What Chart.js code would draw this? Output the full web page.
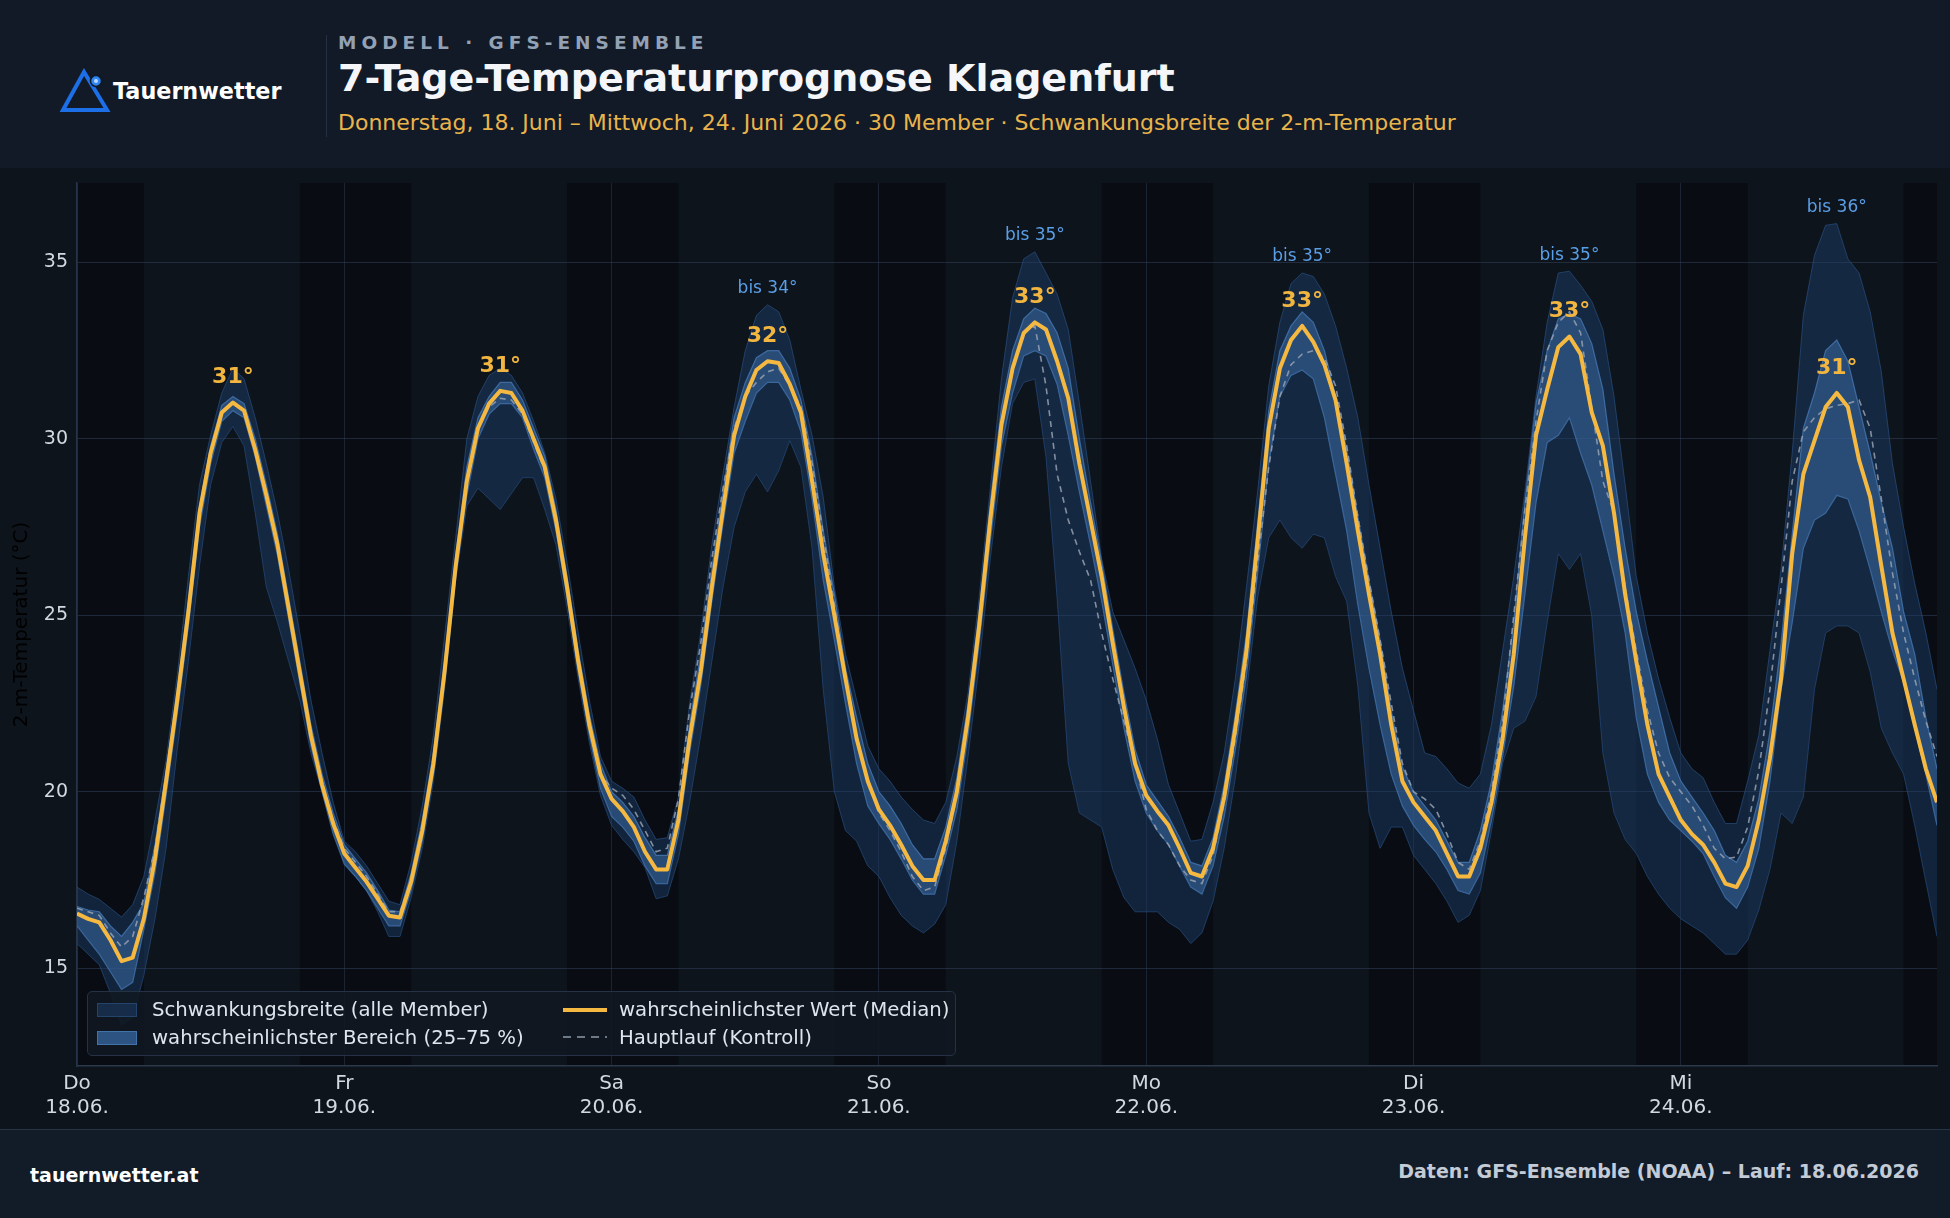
<!DOCTYPE html>
<html lang="de">
<head>
<meta charset="utf-8">
<title>7-Tage-Temperaturprognose Klagenfurt</title>
<script src="https://cdn.jsdelivr.net/npm/chart.js@4.4.1/dist/chart.umd.min.js"></script>
<style>
  html, body { margin:0; padding:0; width:1950px; height:1218px; overflow:hidden;
    background:#0e141c; font-family:'DejaVu Sans', sans-serif; }
  #header { position:absolute; left:0; top:0; width:1950px; height:168px; background:#111a26; }
  #logo { position:absolute; left:56px; top:64px; }
  #brand { position:absolute; left:113px; top:77px; font-size:22.3px; line-height:28px; font-weight:bold; color:#ffffff; }
  #sep { position:absolute; left:326px; top:35px; width:1px; height:102px; background:#253143; }
  #kicker { position:absolute; left:338px; top:32px; font-size:18.5px; line-height:22px; font-weight:bold; letter-spacing:5px; color:#93a1b5; }
  #title { position:absolute; left:338px; top:55px; font-size:38px; line-height:46px; font-weight:bold; color:#f4f6f9; }
  #subtitle { position:absolute; left:338px; top:110px; font-size:22px; line-height:26px; color:#e9b44c; }
  #chartWrap { position:absolute; left:0; top:168px; width:1950px; height:961px; }
  #footer { position:absolute; left:0; top:1129px; width:1950px; height:89px; background:#121b28; border-top:1px solid #283445; box-sizing:border-box; }
  #footL { position:absolute; left:30px; top:33px; font-size:19px; line-height:24px; font-weight:bold; color:#ffffff; }
  #footR { position:absolute; right:31px; top:29px; font-size:19px; line-height:24px; font-weight:bold; color:#c3cbd6; }
  #legend { position:absolute; left:87px; top:991px; width:869px; height:65px; box-sizing:border-box;
    background:rgba(16,24,34,0.86); border:1px solid #253245; border-radius:5px; }
  .li { position:absolute; font-size:19.7px; line-height:24px; color:#dfe5ec; white-space:nowrap; }
  .sw { position:absolute; box-sizing:border-box; }
</style>
</head>
<body>
<div id="header">
  <svg id="logo" width="56" height="52" viewBox="0 0 56 52">
    <polygon points="28,8 7,46 51,46" fill="none" stroke="#1d6fe8" stroke-width="4" stroke-linejoin="miter"/>
    <circle cx="40" cy="17" r="5.5" fill="#2f86f5" stroke="#0f1a2a" stroke-width="1.5"/>
    <circle cx="40" cy="17" r="2" fill="#bcd8ff"/>
  </svg>
  <div id="brand">Tauernwetter</div>
  <div id="sep"></div>
  <div id="kicker">MODELL · GFS-ENSEMBLE</div>
  <div id="title">7-Tage-Temperaturprognose Klagenfurt</div>
  <div id="subtitle">Donnerstag, 18. Juni – Mittwoch, 24. Juni 2026 · 30 Member · Schwankungsbreite der 2-m-Temperatur</div>
</div>

<div id="chartWrap"><canvas id="c"></canvas></div>

<div id="legend">
  <div class="sw" style="left:9px;top:11px;width:40px;height:14px;background:#172c48;border:1px solid #24446b;"></div>
  <div class="li" style="left:64px;top:6px;">Schwankungsbreite (alle Member)</div>
  <div class="sw" style="left:9px;top:39px;width:40px;height:14px;background:#2c5381;border:1px solid #4173a8;"></div>
  <div class="li" style="left:64px;top:34px;">wahrscheinlichster Bereich (25–75 %)</div>
  <div class="sw" style="left:475px;top:16px;width:44px;height:4px;background:#f5b942;"></div>
  <div class="li" style="left:531px;top:6px;">wahrscheinlichster Wert (Median)</div>
  <svg class="sw" style="left:475px;top:43px;" width="44" height="4"><line x1="0" y1="2" x2="44" y2="2" stroke="#8f9bab" stroke-width="1.6" stroke-dasharray="8,6"/></svg>
  <div class="li" style="left:531px;top:34px;">Hauptlauf (Kontroll)</div>
</div>

<div id="footer">
  <div id="footL">tauernwetter.at</div>
  <div id="footR">Daten: GFS-Ensemble (NOAA) – Lauf: 18.06.2026</div>
</div>

<script>
// ---------- data (hourly, Do 18.06. 00:00 … Mi 24.06. 23:00) ----------
const dayNames = ['Do','Fr','Sa','So','Mo','Di','Mi'];
const dayDates = ['18.06.','19.06.','20.06.','21.06.','22.06.','23.06.','24.06.'];
const dayTickHours = [0,24,48,72,96,120,144];
const yTicks = [15,20,25,30,35];
const yMin = 12.23, yMax = 37.25;
const nightRanges = [[0,6],[20,30],[44,54],[68,78],[92,102],[116,126],[140,150],[164,167]];

const tMedian = [
 16.55,16.4,16.3,15.8,15.2,15.3,16.4,18.1,20.3,22.6,25.1,27.9,29.6,30.75,31.03,30.8,29.7,28.4,27.0,25.2,23.4,21.6,20.2,19.1,
 18.25,17.85,17.45,16.97,16.49,16.44,17.45,18.9,20.8,23.4,26.4,28.8,30.3,31.0,31.36,31.3,30.8,30.0,29.2,27.7,25.8,23.7,21.9,20.5,
 19.8,19.45,19.0,18.3,17.8,17.8,19.2,21.5,23.4,25.8,28.0,30.1,31.2,31.95,32.2,32.15,31.55,30.75,28.8,26.75,25.0,23.2,21.5,20.3,
 19.5,19.05,18.5,17.9,17.5,17.5,18.6,20.0,22.1,24.7,27.7,30.4,32.0,33.0,33.3,33.1,32.2,31.15,29.3,27.7,26.1,24.2,22.4,20.8,
 19.9,19.45,19.05,18.4,17.7,17.6,18.4,19.85,21.8,24.0,27.1,30.3,32.0,32.8,33.2,32.75,32.1,31.1,29.3,27.4,25.6,23.9,21.9,20.3,
 19.7,19.3,18.9,18.25,17.6,17.6,18.4,19.7,21.5,23.9,27.2,30.1,31.4,32.6,32.9,32.4,30.75,29.8,27.9,25.6,23.7,21.9,20.5,19.85,
 19.2,18.8,18.5,18.0,17.4,17.3,17.9,19.2,20.95,23.2,26.75,29.0,29.95,30.9,31.3,30.9,29.4,28.35,26.4,24.5,23.2,21.9,20.65,19.7
];
const tP75 = [
 16.75,16.65,16.6,16.2,15.9,16.3,16.85,18.5,20.6,22.9,25.4,28.1,29.8,30.95,31.2,31.0,30.0,28.7,27.3,25.5,23.7,21.9,20.5,19.4,
 18.5,18.1,17.7,17.2,16.65,16.6,17.7,19.2,21.1,23.7,26.7,29.2,30.6,31.2,31.6,31.6,31.1,30.3,29.5,28.0,26.1,24.0,22.2,20.8,
 20.0,19.7,19.3,18.7,18.2,18.2,19.5,21.9,23.9,26.3,28.5,30.6,31.6,32.3,32.5,32.5,32.0,31.1,29.5,27.4,25.6,23.5,22.1,20.8,
 20.0,19.6,19.1,18.5,18.1,18.1,19.0,20.4,22.5,25.1,28.2,30.9,32.5,33.4,33.7,33.55,33.0,32.0,30.0,28.2,26.5,24.6,22.8,21.2,
 20.2,19.75,19.3,18.7,18.0,17.9,18.7,20.2,22.2,24.5,27.6,30.8,32.5,33.2,33.6,33.3,32.5,31.2,29.7,27.8,26.0,24.3,22.3,20.7,
 20.0,19.6,19.2,18.6,18.0,18.0,18.9,20.3,22.3,24.8,28.2,31.0,32.5,33.4,33.55,33.4,32.7,31.4,29.0,26.9,25.1,23.7,22.4,21.1,
 20.3,19.85,19.4,18.9,18.2,18.0,18.6,19.8,21.7,24.2,27.3,30.3,31.3,32.5,32.8,32.2,30.9,29.6,28.2,26.9,25.1,23.9,22.1,20.65
];
const tP25 = [
 16.2,15.8,15.4,14.9,14.4,14.6,16.1,17.7,19.9,22.2,24.7,27.5,29.3,30.5,30.8,30.6,29.5,28.1,26.7,24.9,23.1,21.3,20.0,18.8,
 17.95,17.6,17.2,16.7,16.2,16.2,17.2,18.6,20.5,23.1,26.1,28.4,30.0,30.7,31.0,31.0,30.6,29.7,28.9,27.4,25.5,23.4,21.6,20.1,
 19.3,19.0,18.6,17.9,17.4,17.4,18.8,21.1,23.0,25.4,27.6,29.6,30.5,31.3,31.6,31.6,31.1,30.2,28.3,26.0,24.3,22.5,20.8,19.6,
 19.1,18.65,18.1,17.5,17.1,17.1,18.2,19.5,21.6,24.2,27.1,29.8,31.3,32.35,32.5,32.35,31.55,30.1,28.5,27.0,25.4,23.6,21.8,20.3,
 19.4,18.9,18.5,17.9,17.3,17.1,17.9,19.3,21.2,23.3,26.2,29.3,31.2,31.8,31.95,31.7,30.6,29.0,27.4,25.3,23.5,21.9,20.5,19.6,
 19.05,18.65,18.3,17.8,17.2,17.1,17.7,19.2,21.0,23.0,25.6,28.2,29.9,30.1,30.6,29.6,28.7,27.4,26.1,24.5,22.1,20.5,19.7,19.2,
 18.9,18.6,18.25,17.6,17.0,16.7,17.3,18.4,20.3,22.9,24.8,26.9,27.7,27.9,28.4,28.3,27.4,26.3,25.1,24.0,23.1,21.8,20.5,19.05
];
const tMin = [
 15.7,15.4,15.1,14.3,13.4,13.6,14.8,16.4,18.4,21.2,23.7,26.4,28.7,29.9,30.35,29.8,27.9,25.8,24.8,23.7,22.6,21.1,20.0,18.9,
 18.0,17.6,17.2,16.6,15.9,15.9,17.0,18.4,20.3,22.9,26.0,28.1,28.6,28.3,28.0,28.45,28.9,28.9,28.0,27.0,25.2,23.2,21.4,19.9,
 19.05,18.65,18.3,17.85,16.97,17.05,18.1,19.7,21.6,23.7,25.8,27.5,28.5,29.0,28.5,29.1,29.95,29.2,26.9,22.9,20.0,18.9,18.6,17.9,
 17.6,17.0,16.5,16.2,16.0,16.25,16.8,18.6,21.0,23.6,26.6,29.2,31.0,31.6,31.7,29.5,25.5,20.8,19.4,19.2,19.0,17.8,17.0,16.6,
 16.6,16.6,16.3,16.1,15.7,16.0,16.9,18.4,20.4,22.8,25.5,27.2,27.7,27.2,26.9,27.3,27.2,26.1,25.4,23.0,19.4,18.4,19.0,19.0,
 18.2,17.8,17.4,16.9,16.3,16.5,17.2,18.9,20.8,21.8,22.0,22.7,24.8,26.75,26.3,26.75,25.0,21.1,19.4,18.65,18.25,17.6,17.1,16.7,
 16.4,16.2,16.0,15.7,15.4,15.4,15.8,16.65,17.8,19.4,19.1,19.85,22.9,24.5,24.7,24.7,24.5,23.4,21.8,21.1,20.5,19.05,17.45,15.9
];
const tMax = [
 17.3,17.1,16.95,16.7,16.45,16.8,17.6,19.2,20.9,23.3,26.1,28.7,30.1,31.3,32.0,31.7,30.6,29.3,27.9,26.3,24.5,22.6,21.1,19.7,
 18.6,18.3,17.9,17.4,16.9,16.8,18.0,19.6,21.6,24.4,27.2,30.0,31.2,31.8,32.0,31.8,31.3,30.5,29.6,28.3,26.5,24.5,22.6,21.0,
 20.3,20.1,19.85,19.2,18.65,18.7,19.85,22.5,24.5,27.0,29.0,30.9,32.5,33.5,33.8,33.6,32.8,31.4,30.1,28.35,25.8,23.9,22.6,21.3,
 20.65,20.3,19.85,19.5,19.2,19.1,19.7,21.0,22.8,25.5,28.6,31.7,34.0,35.1,35.3,34.7,34.1,33.1,31.0,28.8,26.6,25.1,24.3,23.5,
 22.6,21.5,20.2,19.4,18.6,18.65,19.7,21.1,23.2,25.8,28.5,31.5,33.3,34.4,34.7,34.6,34.1,33.2,32.0,30.6,28.7,26.9,25.1,23.5,
 22.3,21.1,21.0,20.65,20.25,20.1,20.5,21.9,24.0,26.1,28.5,31.2,33.3,34.7,34.75,34.35,33.9,33.1,31.2,28.7,26.1,24.5,23.2,22.1,
 21.1,20.65,20.4,19.7,19.1,19.1,20.3,21.6,24.0,26.3,29.6,33.5,35.2,36.05,36.1,35.1,34.7,33.6,31.9,29.3,27.5,25.9,24.5,22.9
];
const tControl = [
 16.7,16.6,16.5,16.0,15.6,15.9,17.0,18.4,20.5,22.7,25.2,28.0,29.7,30.8,31.0,30.8,29.8,28.5,27.1,25.3,23.5,21.7,20.3,19.2,
 18.4,18.0,17.6,17.1,16.6,16.6,17.5,18.95,20.9,23.5,26.5,28.9,30.3,30.9,31.15,31.1,30.7,29.9,29.1,27.6,25.8,23.7,21.9,20.5,
 20.1,19.9,19.5,18.9,18.3,18.4,19.8,22.3,24.2,26.6,28.6,30.3,31.2,31.6,31.9,32.0,31.5,30.9,29.3,27.3,25.3,23.3,21.6,20.3,
 19.4,18.9,18.3,17.6,17.2,17.3,18.4,19.9,22.0,24.6,27.6,30.3,31.9,33.0,33.2,31.5,29.0,27.7,26.8,26.0,24.5,23.2,22.0,20.8,
 19.5,18.9,18.5,17.9,17.5,17.4,18.2,19.7,21.5,23.7,26.5,29.2,31.2,32.1,32.4,32.5,32.3,31.5,29.8,27.8,26.0,24.3,22.5,20.8,
 20.0,19.8,19.5,18.8,18.0,17.8,18.6,20.0,22.0,25.0,28.0,30.5,32.5,33.3,33.6,33.0,30.9,28.8,27.9,25.8,24.0,22.3,21.1,20.4,
 20.0,19.6,19.05,18.4,18.1,18.15,19.0,20.6,22.9,25.8,28.8,30.2,30.6,30.85,30.95,31.0,31.1,30.3,28.3,26.2,24.5,23.2,22.0,21.0
];

// ---------- chart ----------
const FONT = 'DejaVu Sans';
const pts = arr => arr.map((y, i) => ({ x: i, y }));

const nightPlugin = {
  id: 'night',
  beforeDraw(chart) {
    const { ctx, chartArea: a, scales: { x } } = chart;
    ctx.save();
    ctx.fillStyle = '#090d13';
    nightRanges.forEach(([s, e]) => {
      const x0 = x.getPixelForValue(s), x1 = x.getPixelForValue(e);
      ctx.fillRect(x0, a.top, x1 - x0, a.bottom - a.top);
    });
    ctx.restore();
  }
};

const peakPlugin = {
  id: 'peaks',
  afterDatasetsDraw(chart) {
    const { ctx, scales: { x, y } } = chart;
    ctx.save();
    ctx.textAlign = 'center';
    ctx.textBaseline = 'middle';
    for (let d = 0; d < dayNames.length; d++) {
      const s = d * 24, e = Math.min(s + 24, tMedian.length);
      let im = s, ix = s;
      for (let i = s; i < e; i++) {
        if (tMedian[i] > tMedian[im]) im = i;
        if (tMax[i] > tMax[ix]) ix = i;
      }
      ctx.font = 'bold 22px ' + FONT;
      ctx.fillStyle = '#f2b640';
      ctx.fillText(Math.round(tMedian[im]) + '°', x.getPixelForValue(im), y.getPixelForValue(tMedian[im]) - 25);
      if (tMax[ix] - tMedian[im] >= 1.5) {
        ctx.font = '17px ' + FONT;
        ctx.fillStyle = '#5a9fe6';
        ctx.fillText('bis ' + Math.round(tMax[ix]) + '°', x.getPixelForValue(ix), y.getPixelForValue(tMax[ix]) - 16);
      }
    }
    ctx.restore();
  }
};

const common = { pointRadius: 0, pointHoverRadius: 0, tension: 0 };

new Chart(document.getElementById('c'), {
  type: 'line',
  data: {
    datasets: [
      { ...common, label: 'wahrscheinlichster Wert (Median)', data: pts(tMedian), borderColor: '#f5b942', borderWidth: 4, fill: false, borderJoinStyle: 'round' },
      { ...common, label: 'Hauptlauf (Kontroll)', data: pts(tControl), borderColor: 'rgba(150,162,178,0.85)', borderWidth: 1.6, borderDash: [6, 5], fill: false },
      { ...common, label: 'p75', data: pts(tP75), borderColor: 'rgba(72,124,184,0.75)', borderWidth: 1.2, backgroundColor: 'rgba(56,104,158,0.58)', fill: '+1' },
      { ...common, label: 'p25', data: pts(tP25), borderColor: 'rgba(72,124,184,0.75)', borderWidth: 1.2, fill: false },
      { ...common, label: 'max', data: pts(tMax), borderColor: 'rgba(40,78,128,0.7)', borderWidth: 1, backgroundColor: 'rgba(30,64,110,0.45)', fill: '+1' },
      { ...common, label: 'min', data: pts(tMin), borderColor: 'rgba(40,78,128,0.7)', borderWidth: 1, fill: false }
    ]
  },
  options: {
    responsive: true,
    maintainAspectRatio: false,
    animation: false,
    devicePixelRatio: 1,
    layout: { padding: { left: 0, right: 13, top: 15, bottom: 0 } },
    plugins: { legend: { display: false }, tooltip: { enabled: false } },
    scales: {
      x: {
        type: 'linear', min: 0, max: tMedian.length - 1,
        afterBuildTicks: s => { s.ticks = dayTickHours.map(v => ({ value: v })); },
        afterFit: s => { s.height = 63; },
        grid: { color: 'rgba(52,70,96,0.42)', lineWidth: 1, drawTicks: false },
        border: { display: true, color: '#2b394b', width: 1.5 },
        ticks: {
          color: '#d3d9e1', font: { family: FONT, size: 20 }, padding: 6,
          maxRotation: 0, autoSkip: false,
          callback: v => { const d = dayTickHours.indexOf(v); return d < 0 ? '' : [dayNames[d], dayDates[d]]; }
        }
      },
      y: {
        min: yMin, max: yMax,
        afterBuildTicks: s => { s.ticks = yTicks.map(v => ({ value: v })); },
        afterFit: s => { s.width = 77; s.paddingTop = 0; s.paddingBottom = 0; },
        grid: { color: 'rgba(52,70,96,0.5)', lineWidth: 1, drawTicks: false },
        border: { display: true, color: '#27354a', width: 1.5 },
        ticks: { color: '#d3d9e1', font: { family: FONT, size: 19 }, padding: 9 },
        title: { display: true, text: '2-m-Temperatur (°C)', color: '#000000', font: { family: FONT, size: 20 }, padding: { top: 10, bottom: 0 } }
      }
    }
  },
  plugins: [nightPlugin, peakPlugin]
});
</script>
</body>
</html>
